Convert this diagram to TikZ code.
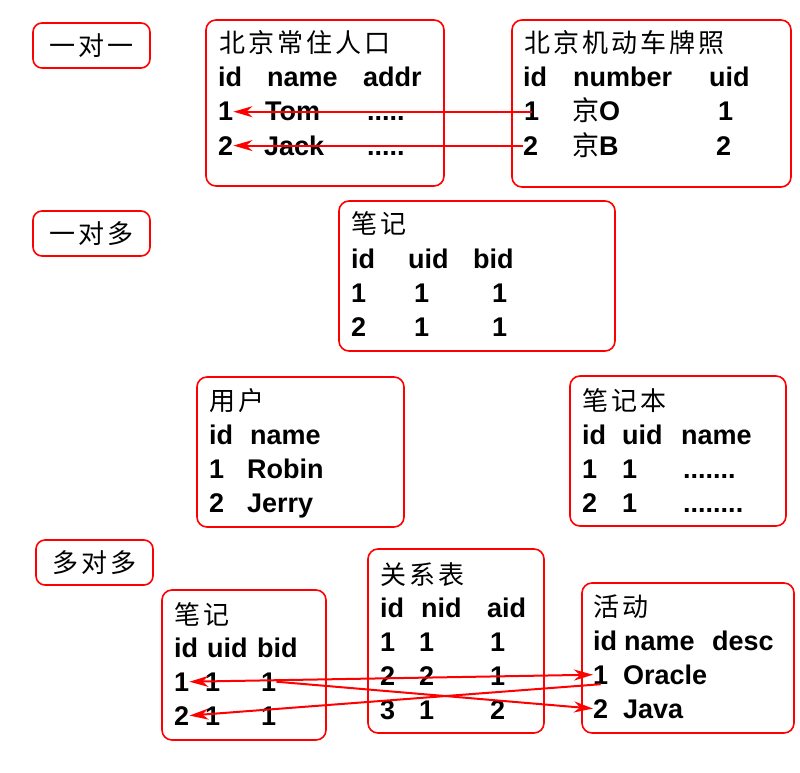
\documentclass[tikz,border=0pt]{standalone}
\usepackage{fontspec}
\setmainfont{Liberation Sans}
\newfontfamily\cjk[LetterSpace=12]{Noto Sans CJK SC}
\usetikzlibrary{arrows.meta,fit}
\newcommand{\trow}[3]{\foreach \cx/\txt [count=\i] in {#3} {\node[cell] (#1-\i) at (\cx,#2) {\txt};}}
\newcommand{\jing}{{\cjk\mdseries 京}}

\begin{document}
\begin{tikzpicture}[x=1pt,y=-1pt,
    tbl/.style={draw=red,line width=1.6pt,rounded corners=10pt,inner sep=0pt},
    lbl/.style={draw=red,line width=1.6pt,rounded corners=9pt,minimum width=117pt,minimum height=45pt,
                inner sep=0pt,font=\cjk\fontsize{26}{26}\selectfont},
    title/.style={anchor=base west,inner sep=0pt,font=\cjk\fontsize{26}{26}\selectfont},
    cell/.style={anchor=base west,inner sep=0pt,font=\fontsize{27}{27}\selectfont\bfseries},
    tip/.tip={Stealth[length=19pt,width=11pt,inset=6pt]},
    link/.style={red,line width=2pt,-tip}]
  \useasboundingbox (0,0) rectangle (800,773);

  % relation labels
  \node[lbl] (one2one) at (91.5,45.5) {一对一};
  \node[lbl] (one2many) at (91.5,233.5) {一对多};
  \node[lbl] (many2many) at (94.5,562.5) {多对多};

  % one to one
  \node[tbl,fit={(206,20) (444,186)}] (pop) {};
  \node[title] (pop-t) at (219,53) {北京常住人口};
  \trow{pa}{87}{218/id, 267/name, 363/addr}
  \trow{pb}{121}{218/1, 265/Tom, 367/{.....}}
  \trow{pc}{155}{218/2, 264/Jack, 367/{.....}}

  \node[tbl,fit={(512,20) (791,187)}] (car) {};
  \node[title] (car-t) at (524,53) {北京机动车牌照};
  \trow{ca}{87}{523/id, 573/number, 709/uid}
  \trow{cb}{121}{524/1, 572/\jing O, 718/1}
  \trow{cc}{155}{523/2, 572/\jing B, 716/2}

  \draw[link] (cb-1.center) -- (pb-1.east);
  \draw[link] (cc-1.west) -- (pc-1.east);

  % one to many
  \node[tbl,fit={(339,201) (615,351)}] (note) {};
  \node[title] (note-t) at (351,233) {笔记};
  \trow{na}{268}{351/id, 408/uid, 473/bid}
  \trow{nb}{302}{351/1, 414/1, 492/1}
  \trow{nc}{336}{351/2, 414/1, 492/1}

  \node[tbl,fit={(197,377) (404,527)}] (user) {};
  \node[title] (user-t) at (209,410) {用户};
  \trow{ua}{444}{209/id, 250/name}
  \trow{ub}{478}{209/1, 247/Robin}
  \trow{uc}{512}{209/2, 247/Jerry}

  \node[tbl,fit={(570,376) (786,526)}] (book) {};
  \node[title] (book-t) at (582,410) {笔记本};
  \trow{ba}{444}{582/id, 622/uid, 681/name}
  \trow{bb}{478}{582/1, 622/1, 683/{.......}}
  \trow{bc}{512}{582/2, 622/1, 683/{........}}

  % many to many
  \node[tbl,fit={(162,590) (326,740)}] (note2) {};
  \node[title] (note2-t) at (174,624) {笔记};
  \trow{ma}{657}{174/id, 207/uid, 257/bid}
  \trow{mb}{691}{174/1, 205/1, 261/1}
  \trow{mc}{725}{174/2, 205/1, 261/1}

  \node[tbl,fit={(368,549) (544,733)}] (rel) {};
  \node[title] (rel-t) at (380,584) {关系表};
  \trow{ra}{617}{380/id, 421/nid, 487/aid}
  \trow{rb}{651}{380/1, 419/1, 490/1}
  \trow{rc}{685}{380/2, 419/2, 490/1}
  \trow{rd}{719}{380/3, 419/1, 490/2}

  \node[tbl,fit={(582,583) (794,733)}] (act) {};
  \node[title] (act-t) at (593,616) {活动};
  \trow{aa}{650}{593/id, 624/name, 712/desc}
  \trow{ab}{684}{593/1, 623/Oracle}
  \trow{ac}{718}{593/2, 623/Java}

  \draw[link,tip-tip] (mb-1.east) -- (ab-1.west);
  \draw[link] (mb-3.east) -- (ac-1.west);
  \draw[link] (ab-1.south) -- (mc-1.east);
\end{tikzpicture}
\end{document}
